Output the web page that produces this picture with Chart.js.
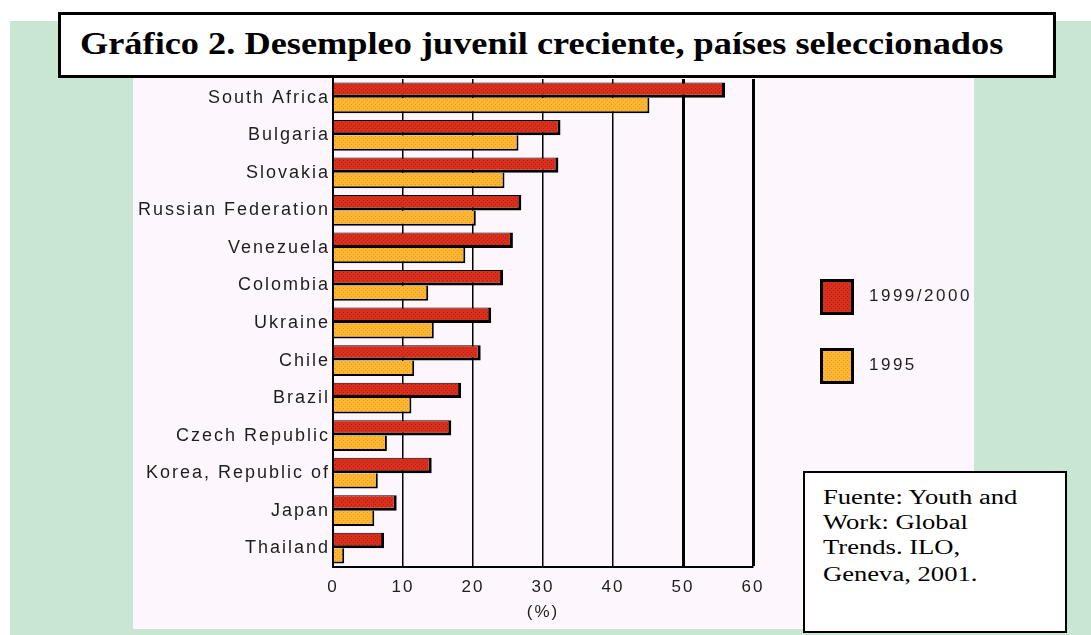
<!DOCTYPE html>
<html>
<head>
<meta charset="utf-8">
<script src="https://cdn.jsdelivr.net/npm/chart.js@4/dist/chart.umd.min.js"></script>
<style>
  body { margin: 0; width: 1091px; height: 635px; overflow: hidden; position: relative; background: #fff; }
  #green { position: absolute; left: 10px; top: 21px; width: 1081px; height: 614px; background: #c8e6d1; }
  #pink { position: absolute; left: 133px; top: 60px; width: 841px; height: 569px; background: #fdf7fd; }
  #wrap { position: absolute; left: 133px; top: 70px; width: 841px; height: 559px; }
  #title { position: absolute; left: 58px; top: 12px; width: 992px; height: 60px; border: 3px solid #000; background: #fff; }
  #title span { position: absolute; left: 19px; top: 12px; font: bold 32px/32px "Liberation Serif", "Times New Roman", serif;
    white-space: nowrap; transform: scaleX(1.135); transform-origin: left center; }
  #source { position: absolute; left: 803px; top: 471px; width: 260px; height: 158px; border: 2px solid #000; background: #fff; }
  #source div { position: absolute; left: 18px; top: 12px; font: 20px/25px "Liberation Serif", "Times New Roman", serif;
    white-space: nowrap; transform: scaleX(1.33); transform-origin: left top; }
  #source span { display: inline-block; margin-top: 2px; }
</style>
</head>
<body>
<div id="green"></div>
<div id="pink"></div>
<div id="wrap"><canvas id="chart"></canvas></div>
<div id="title"><span>Gráfico 2. Desempleo juvenil creciente, países seleccionados</span></div>
<div id="source"><div>Fuente: Youth and<br>Work: Global<br>Trends. ILO,<br><span>Geneva, 2001.</span></div></div>

<script>
const countries = ['South Africa', 'Bulgaria', 'Slovakia', 'Russian Federation', 'Venezuela', 'Colombia',
    'Ukraine', 'Chile', 'Brazil', 'Czech Republic', 'Korea, Republic of', 'Japan', 'Thailand'];
const rate2000 = [56.0, 32.5, 32.2, 26.9, 25.7, 24.3, 22.6, 21.1, 18.3, 16.9, 14.1, 9.1, 7.3];
const rate1995 = [45.2, 26.5, 24.5, 20.4, 18.9, 13.6, 14.4, 11.6, 11.2, 7.7, 6.4, 5.9, 1.6];
const xTicks = [0, 10, 20, 30, 40, 50, 60];

const canvas = document.getElementById('chart');
const ctx = canvas.getContext('2d');

// small dotted fill, like the old bitmap
function dotted(base, dot) {
    const c = document.createElement('canvas');
    c.width = 4; c.height = 4;
    const g = c.getContext('2d');
    g.fillStyle = base;
    g.fillRect(0, 0, 4, 4);
    g.fillStyle = dot;
    g.fillRect(0, 0, 1, 1);
    g.fillRect(2, 2, 1, 1);
    return ctx.createPattern(c, 'repeat');
}

const textColor = '#1e1e1e';
const labelFont = { family: '"Liberation Sans", Arial, sans-serif', size: 17 };

const sideLegend = {
    id: 'sideLegend',
    beforeDraw(chart) {
        chart.ctx.letterSpacing = '2px';
    },
    afterDraw(chart) {
        const c = chart.ctx;
        const x = chart.chartArea.right + 67;
        chart.data.datasets.forEach((ds, i) => {
            const y = 209 + i * 69;
            c.save();
            c.fillStyle = ds.backgroundColor;
            c.fillRect(x, y, 34, 36);
            c.lineWidth = 3;
            c.strokeStyle = '#000';
            c.strokeRect(x + 1.5, y + 1.5, 31, 33);
            c.fillStyle = textColor;
            c.font = '17px "Liberation Sans", Arial, sans-serif';
            c.letterSpacing = '2.5px';
            c.textBaseline = 'middle';
            c.fillText(ds.label, x + 49, y + 17);
            c.restore();
        });
    }
};

new Chart(ctx, {
    type: 'bar',
    data: {
        labels: countries,
        datasets: [{
            label: '1999/2000',
            data: rate2000,
            backgroundColor: dotted('#d8301c', '#b01f10'),
            borderColor: '#000',
            borderWidth: { top: 1, right: 3, bottom: 3, left: 0 },
            categoryPercentage: 0.82,
            barPercentage: 1
        }, {
            label: '1995',
            data: rate1995,
            backgroundColor: dotted('#fbb632', '#ee9424'),
            borderColor: '#000',
            borderWidth: { top: 0, right: 2, bottom: 2, left: 0 },
            categoryPercentage: 0.82,
            barPercentage: 1
        }]
    },
    options: {
        indexAxis: 'y',
        responsive: true,
        maintainAspectRatio: false,
        animation: false,
        layout: { padding: { top: 9, right: 221, bottom: 0, left: 0 } },
        plugins: {
            legend: { display: false },
            tooltip: { enabled: false }
        },
        scales: {
            x: {
                min: 0,
                max: 60,
                afterBuildTicks: s => { s.ticks = xTicks.map(v => ({ value: v })); },
                afterFit: s => { s.height = 62; },
                grid: {
                    color: '#000',
                    lineWidth: c => (c.tick && c.tick.value >= 50 ? 3 : 1.5),
                    drawTicks: false
                },
                border: { display: true, color: '#000', width: 2 },
                ticks: { color: textColor, font: labelFont, padding: 10 },
                title: {
                    display: true, text: '(%)', color: textColor, font: labelFont,
                    padding: { top: 4, bottom: 6 }
                }
            },
            y: {
                afterFit: s => { s.width = 200; s.paddingTop = 0; s.paddingBottom = 0; },
                grid: { display: false, drawTicks: false },
                border: { display: true, color: '#000', width: 2 },
                ticks: { color: textColor, font: { family: labelFont.family, size: 18 }, padding: 3 }
            }
        }
    },
    plugins: [sideLegend]
});
</script>
</body>
</html>
